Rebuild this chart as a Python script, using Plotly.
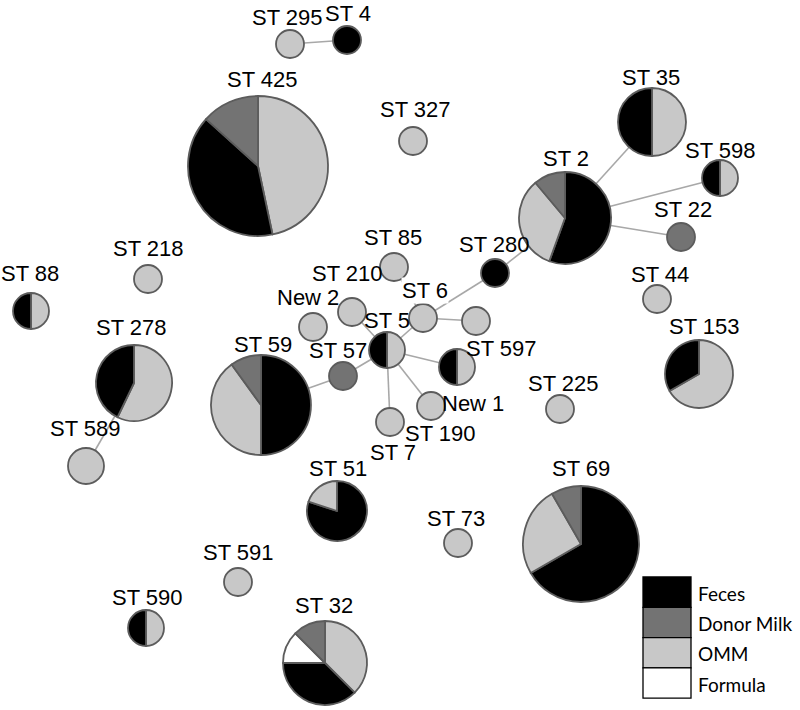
import plotly.graph_objects as go

# ---- data -----------------------------------------------------------------
categories = ["Feces", "Donor Milk", "OMM", "Formula"]
cat_colors = {"Feces": "#000000", "Donor Milk": "#737373", "OMM": "#c8c8c8", "Formula": "#ffffff"}

nodes   = ["ST 295", "ST 4", "ST 425", "ST 327", "ST 35", "ST 2", "ST 598", "ST 22", "ST 280", "ST 44",
           "ST 153", "ST 225", "ST 218", "ST 88", "ST 85", "ST 210", "New 2", "ST 6", "New 1", "ST 5",
           "ST 57", "ST 597", "ST 190", "ST 7", "ST 59", "ST 278", "ST 589", "ST 51", "ST 73", "ST 69",
           "ST 591", "ST 590", "ST 32"]
feces   = [0, 1, 6, 0, 3, 5, 1, 0, 1, 0,   2, 0, 0, 1, 0, 0, 0, 0, 0, 1,   0, 1, 0, 0, 5, 3, 0, 4, 0, 8,   0, 1, 3]
donor   = [0, 0, 2, 0, 0, 1, 0, 1, 0, 0,   0, 0, 0, 0, 0, 0, 0, 0, 0, 0,   1, 0, 0, 0, 1, 0, 0, 0, 0, 1,   0, 0, 1]
omm     = [1, 0, 7, 1, 3, 3, 1, 0, 0, 1,   4, 1, 1, 1, 1, 1, 1, 1, 1, 1,   0, 1, 1, 1, 4, 4, 2, 1, 1, 3,   1, 1, 3]
formula = [0, 0, 0, 0, 0, 0, 0, 0, 0, 0,   0, 0, 0, 0, 0, 0, 0, 0, 0, 0,   0, 0, 0, 0, 0, 0, 0, 0, 0, 0,   0, 0, 1]

edges = [("ST 295", "ST 4"), ("ST 35", "ST 2"), ("ST 598", "ST 2"), ("ST 22", "ST 2"),
         ("ST 280", "ST 2"), ("ST 280", "ST 6"), ("ST 85", "ST 6"), ("ST 6", "ST 5"),
         ("ST 6", "New 1"), ("ST 5", "ST 210"), ("ST 5", "ST 57"), ("ST 57", "ST 59"),
         ("ST 5", "ST 597"), ("ST 5", "ST 190"), ("ST 5", "ST 7"), ("ST 278", "ST 589")]

# ---- layout (pixel positions of the network drawing) -----------------------
node_x  = [290, 347, 258, 413, 652, 565, 720, 681, 495, 657,  699, 560, 148, 31, 394, 352, 313, 423, 476, 387,
           343, 457, 431, 390, 261, 134, 86, 337, 458, 581,   238, 146, 325]
node_y  = [44, 40, 166, 141, 122, 218, 178, 237, 273, 299,    374, 409, 279, 311, 267, 312, 327, 318, 321, 350,
           376, 367, 406, 422, 405, 383, 466, 511, 543, 544,  582, 628, 663]
label_x = [287, 348, 262, 415, 651, 566, 720, 683, 494, 660,  704, 563, 148, 30, 393, 347, 308, 425, 473, 387,
           338, 501, 440, 393, 263, 131, 85, 338, 456, 581,   238, 147, 324]
label_y = [17, 13, 79, 109, 77, 158, 150, 209, 244, 274,      326, 383, 248, 273, 237, 273, 297, 290, 403, 320,
           350, 348, 433, 452, 344, 327, 428, 468, 518, 468,  552, 597, 605]
order_omm_first = {"ST 425", "ST 35", "ST 598", "ST 88", "ST 5", "ST 597", "ST 590", "ST 153", "ST 278", "ST 32"}

W, H = 800, 710

fig = go.Figure()

# edges
pos = {n: (x, y) for n, x, y in zip(nodes, node_x, node_y)}
ex, ey = [], []
for a, b in edges:
    ex += [pos[a][0], pos[b][0], None]
    ey += [pos[a][1], pos[b][1], None]
fig.add_trace(go.Scatter(x=ex, y=ey, mode="lines", line=dict(color="#a8a8a8", width=1.6),
                         hoverinfo="skip", showlegend=False))

# pies
for i, name in enumerate(nodes):
    vals = {"Feces": feces[i], "Donor Milk": donor[i], "OMM": omm[i], "Formula": formula[i]}
    n = sum(vals.values())
    r = 10 + 4 * n
    if name in order_omm_first:
        seq = ["OMM", "Feces", "Formula", "Donor Milk"]
    else:
        seq = ["Feces", "OMM", "Donor Milk", "Formula"]
    labs = [c for c in seq if vals[c] > 0]
    cx, cy = node_x[i], node_y[i]
    fig.add_trace(go.Pie(
        labels=labs, values=[vals[c] for c in labs],
        marker=dict(colors=[cat_colors[c] for c in labs], line=dict(color="#5c5c5c", width=1.8)),
        sort=False, direction="clockwise", rotation=0, textinfo="none", hoverinfo="label+value",
        showlegend=False,
        domain=dict(x=[(cx - r) / W, (cx + r) / W], y=[1 - (cy + r) / H, 1 - (cy - r) / H]),
    ))

# node labels
annotations = []
for i, name in enumerate(nodes):
    annotations.append(dict(x=label_x[i], y=label_y[i], xref="x", yref="y", text=name, showarrow=False,
                            font=dict(family="Liberation Sans, Arial", size=22, color="#000000"),
                            bgcolor="#ffffff" if name == "ST 6" else None, borderpad=0))

# legend
shapes = []
leg_x0, leg_x1, leg_top, leg_h = 643, 691, 577, 30.3
for k, cat in enumerate(categories):
    y0 = leg_top + k * leg_h
    shapes.append(dict(type="rect", xref="x", yref="y", x0=leg_x0, x1=leg_x1, y0=y0, y1=y0 + leg_h,
                       fillcolor=cat_colors[cat], line=dict(color="#000000", width=1.3), layer="above"))
    annotations.append(dict(x=leg_x1 + 5, y=y0 + leg_h / 2 + 1, xref="x", yref="y", text=cat, showarrow=False,
                            xanchor="left", font=dict(family="Lato, Noto Sans", size=19, color="#000000")))

fig.update_layout(
    width=W, height=H, margin=dict(l=0, r=0, t=0, b=0),
    paper_bgcolor="white", plot_bgcolor="white", showlegend=False,
    xaxis=dict(range=[0, W], visible=False, fixedrange=True),
    yaxis=dict(range=[H, 0], visible=False, fixedrange=True),
    annotations=annotations, shapes=shapes,
)
fig.write_html("out.html", config={"displayModeBar": False},
               post_script="document.body.style.margin='0px';document.body.style.overflow='hidden';")
